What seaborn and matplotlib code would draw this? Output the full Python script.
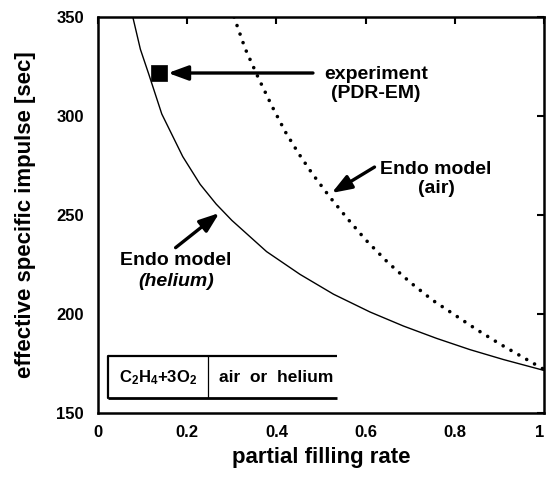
import matplotlib
matplotlib.use("Agg")
import matplotlib.pyplot as plt
import seaborn as sns

# ---- data ----
helium_rate = [0.078, 0.095, 0.114, 0.143, 0.190, 0.229, 0.265, 0.300, 0.378,
               0.453, 0.528, 0.610, 0.685, 0.759, 0.834, 0.909, 1.000]
helium_isp = [350.0, 333.7, 321.0, 301.0, 279.5, 265.5, 255.5, 247.3, 231.5,
              220.0, 210.0, 201.0, 193.9, 187.7, 182.0, 177.0, 171.5]

air_rate = [0.305, 0.330, 0.360, 0.390, 0.420, 0.450, 0.480, 0.520, 0.560,
            0.600, 0.650, 0.700, 0.750, 0.800, 0.850, 0.900, 0.950, 1.000]
air_isp = [350.0, 334.0, 319.0, 305.0, 292.0, 281.0, 271.0, 259.0, 248.0,
           237.5, 226.0, 216.0, 207.0, 199.5, 192.0, 185.0, 178.5, 172.0]

exp_rate = [0.137]
exp_isp = [321.5]

x_ticks = [0, 0.2, 0.4, 0.6, 0.8, 1.0]
x_tick_labels = ["0", "0.2", "0.4", "0.6", "0.8", "1"]
y_ticks = [150, 200, 250, 300, 350]
y_tick_labels = ["150", "200", "250", "300", "350"]

sns.set_theme(style="white")
plt.rcParams["font.family"] = ["Liberation Sans", "DejaVu Sans"]
plt.rcParams["font.weight"] = "bold"
plt.rcParams["text.color"] = "black"
plt.rcParams["axes.labelcolor"] = "black"
plt.rcParams["xtick.color"] = "black"
plt.rcParams["ytick.color"] = "black"
plt.rcParams["mathtext.fontset"] = "custom"
plt.rcParams["mathtext.rm"] = "Liberation Sans:bold"
plt.rcParams["mathtext.bf"] = "Liberation Sans:bold"
plt.rcParams["mathtext.default"] = "rm"

fig = plt.figure(figsize=(5.46, 4.78), dpi=100)
ax = fig.add_axes([0.1795, 0.136, 0.8168, 0.8285])

sns.lineplot(x=helium_rate, y=helium_isp, ax=ax, color="black", lw=1.0, sort=False)
sns.lineplot(x=air_rate, y=air_isp, ax=ax, color="black", lw=2.6, sort=False,
             linestyle=(0, (0.01, 2.5)), dash_capstyle="round")
sns.scatterplot(x=exp_rate, y=exp_isp, ax=ax, marker="s", s=125, color="black",
                edgecolor="black", linewidth=0.5, zorder=5)

ax.set_xlim(0, 1)
ax.set_ylim(150, 350)
ax.set_xticks(x_ticks)
ax.set_xticklabels(x_tick_labels)
ax.set_yticks(y_ticks)
ax.set_yticklabels(y_tick_labels)
ax.tick_params(direction="in", length=5, width=1.5, top=True, right=True,
               labelsize=12, colors="black")
ax.tick_params(axis="x", pad=9)
ax.tick_params(axis="y", pad=10)
for lab in ax.get_xticklabels() + ax.get_yticklabels():
    lab.set_fontweight("bold")
ax.get_xticklabels()[-1].set_horizontalalignment("right")
for sp in ax.spines.values():
    sp.set_visible(True)
    sp.set_color("black")
    sp.set_linewidth(1.8)

ax.set_xlabel("partial filling rate", fontsize=16, fontweight="bold", labelpad=5)
ax.set_ylabel("effective specific impulse [sec]", fontsize=16, fontweight="bold",
              labelpad=15)

arrow = dict(arrowstyle="-|>,head_length=0.6,head_width=0.22", lw=2.4,
             color="black", mutation_scale=20, shrinkA=0, shrinkB=0)

# experiment annotation
ax.annotate("", xy=(0.157, 321.7), xytext=(0.482, 321.7), arrowprops=arrow)
ax.text(0.623, 316.3, "experiment\n(PDR-EM)", ha="center", va="center",
        fontsize=14, fontweight="bold", linespacing=1.15)

# air annotation
ax.annotate("", xy=(0.524, 261.1), xytext=(0.620, 274.2), arrowprops=arrow)
ax.text(0.758, 268.4, "Endo model\n(air)", ha="center", va="center",
        fontsize=14, fontweight="bold", linespacing=1.15)

# helium annotation
ax.annotate("", xy=(0.272, 251.0), xytext=(0.174, 233.5), arrowprops=arrow)
ax.text(0.175, 227.1, "Endo model", ha="center", va="center",
        fontsize=14, fontweight="bold")
ax.text(0.175, 216.2, "(helium)", ha="center", va="center",
        fontsize=14, fontweight="bold", style="italic")

# inset schematic box
box_l, box_m, box_r = 0.0217, 0.246, 0.535
box_b, box_t = 157.4, 178.8
ax.plot([box_l, box_r], [box_t, box_t], color="black", lw=1.6, solid_capstyle="butt")
ax.plot([box_l, box_r], [box_b, box_b], color="black", lw=2.0, solid_capstyle="butt")
ax.plot([box_l, box_l], [box_b, box_t], color="black", lw=1.6)
ax.plot([box_m, box_m], [box_b, box_t], color="black", lw=0.9)
ax.text((box_l + box_m) / 2, (box_b + box_t) / 2, "C$_2$H$_4$+3O$_2$",
        ha="center", va="center", fontsize=12, fontweight="bold")
ax.text((box_m + box_r) / 2 + 0.008, (box_b + box_t) / 2, "air  or  helium",
        ha="center", va="center", fontsize=12.5, fontweight="bold")

fig.savefig("out.png", dpi=100)
